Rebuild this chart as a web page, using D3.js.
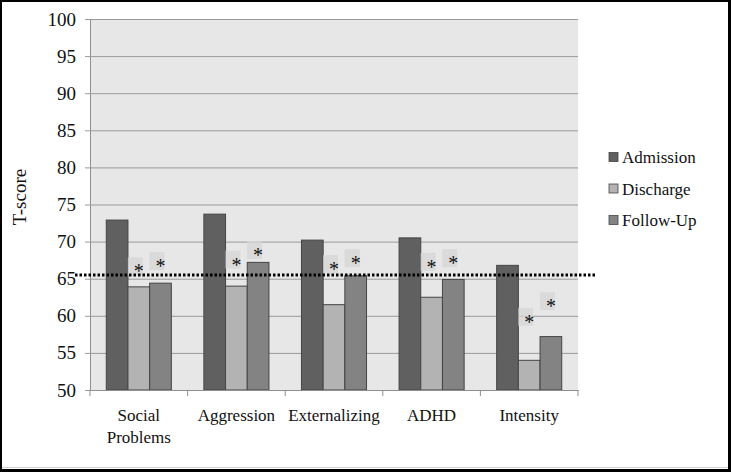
<!DOCTYPE html>
<html>
<head>
<meta charset="utf-8">
<script src="https://cdn.jsdelivr.net/npm/d3@7"></script>
<style>
  body{margin:0;background:#fff}
  svg{display:block}
</style>
</head>
<body>
<svg></svg>
<script>
// data
let categories=[["Social","Problems"],["Aggression"],["Externalizing"],["ADHD"],["Intensity"]]
let series=["Admission","Discharge","Follow-Up"]
let admission=[72.9,73.7,70.2,70.5,66.8]
let discharge=[63.9,64.0,61.5,62.5,54.0]
let followUp=[64.4,67.2,65.4,64.9,57.2]
// asterisk heights (T-score) over discharge / follow-up bars
let starDischarge=[66.4,67.3,66.7,67.0,59.6]
let starFollowUp=[67.1,68.6,67.5,67.5,61.7]
let yTicks=[50,55,60,65,70,75,80,85,90,95,100]
let cutoff=65.5

let width=731
let height=472
let plotLeft=90, plotRight=578, plotTop=19, plotBottom=390
let serif='"Liberation Serif", "Times New Roman", serif'

let colors={"Admission":"#606060","Discharge":"#b3b3b3","Follow-Up":"#838383"}
let values=[admission,discharge,followUp]

let svg=d3.select('svg').attr('width',width).attr('height',height)

// frame
svg.append('rect').attr('width',width).attr('height',height).attr('fill','#000')
svg.append('rect').attr('x',2).attr('y',2).attr('width',726).attr('height',467).attr('fill','#fff')
svg.append('line').attr('x1',2).attr('x2',728).attr('y1',467.5).attr('y2',467.5).attr('stroke','#cfcfcf')

let labels=categories.map(c=>c.join(' '))
let xScale=d3.scaleBand().domain(labels).range([plotLeft,plotRight]).padding(0)
let subScale=d3.scaleBand().domain(series).range([0,xScale.bandwidth()]).paddingInner(0).paddingOuter(0.75)
let yScale=d3.scaleLinear().domain([50,100]).range([plotBottom,plotTop])

// plot background
svg.append('rect').attr('x',plotLeft).attr('y',plotTop).attr('width',plotRight-plotLeft).attr('height',plotBottom-plotTop).attr('fill','#e7e7e7')

// gridlines + y axis
let yAxis=d3.axisLeft(yScale).tickValues(yTicks).tickSize(-(plotRight-plotLeft)).tickSizeOuter(0).tickPadding(10)
let gy=svg.append('g').attr('transform','translate('+plotLeft+',0)').call(yAxis)
gy.attr('font-family',serif).attr('font-size',19)
gy.select('.domain').attr('stroke','#8f8f8f')
gy.selectAll('.tick line').attr('stroke','#9a9a9a').attr('x1',-5)
gy.selectAll('.tick text').style('font-family',serif).style('font-size','19px').attr('fill','#111').attr('x',-14)

// bars
let rows=[]
labels.forEach((c,i)=>{
    series.forEach((s,j)=>{
        rows.push({cat:c,series:s,value:values[j][i]})
    })
})
svg.selectAll('rect.bar')
    .data(rows)
    .enter()
    .append('rect')
    .attr('class','bar')
    .attr('x',d=>xScale(d.cat)+subScale(d.series))
    .attr('width',subScale.bandwidth())
    .attr('y',d=>yScale(d.value))
    .attr('height',d=>plotBottom-yScale(d.value))
    .attr('fill',d=>colors[d.series])
    .attr('stroke','#454545')
    .attr('stroke-width',1)

// x axis
let xAxis=d3.axisBottom(xScale).tickSize(0).tickSizeOuter(0)
let gx=svg.append('g').attr('transform','translate(0,'+plotBottom+')').call(xAxis)
gx.select('.domain').attr('stroke','#8f8f8f')
gx.selectAll('.tick text').remove()
let boundaries=d3.range(labels.length+1).map(i=>plotLeft+i*xScale.step())
gx.selectAll('line.sep').data(boundaries).enter().append('line')
    .attr('x1',d=>d).attr('x2',d=>d).attr('y1',0).attr('y2',6).attr('stroke','#8f8f8f')
svg.selectAll('text.cat')
    .data(categories)
    .enter()
    .append('text')
    .attr('class','cat')
    .attr('text-anchor','middle')
    .style('font-family',serif)
    .style('font-size','17px')
    .attr('fill','#111')
    .attr('x',(d,i)=>xScale(labels[i])+xScale.bandwidth()/2)
    .attr('y',421)
    .each(function(d){
        let cx=d3.select(this).attr('x')
        d3.select(this).selectAll('tspan').data(d).enter().append('tspan')
            .attr('x',cx)
            .attr('dy',(t,k)=>k==0?0:22)
            .text(t=>t)
    })

// asterisks with light boxes
let stars=[]
labels.forEach((c,i)=>{
    stars.push({cat:c,series:"Discharge",value:starDischarge[i]})
    stars.push({cat:c,series:"Follow-Up",value:starFollowUp[i]})
})
let sg=svg.selectAll('g.star').data(stars).enter().append('g').attr('class','star')
    .attr('transform',d=>'translate('+(xScale(d.cat)+subScale(d.series)+subScale.bandwidth()/2)+','+yScale(d.value)+')')
sg.append('rect').attr('x',-11).attr('y',-11).attr('width',15).attr('height',18).attr('fill','#d6d6d6').attr('opacity',0.75)
sg.append('text').attr('text-anchor','middle').attr('y',10).style('font-family',serif).style('font-size','20px').attr('fill','#111').text('*')

// cutoff dotted line
svg.append('line')
    .attr('x1',75).attr('x2',597)
    .attr('y1',yScale(cutoff)).attr('y2',yScale(cutoff))
    .attr('stroke','#000').attr('stroke-width',3).attr('stroke-dasharray','2.5,2')

// y label
svg.append('text')
    .attr('transform','translate(26,197) rotate(-90)')
    .attr('text-anchor','middle')
    .style('font-family',serif)
    .style('font-size','19px')
    .attr('fill','#111')
    .text('T-score')

// legend
let lg=svg.selectAll('g.legend').data(series).enter().append('g').attr('class','legend')
    .attr('transform',(d,i)=>'translate(609,'+(157+i*31.5)+')')
lg.append('rect').attr('x',0).attr('y',-4.5).attr('width',9).attr('height',9)
    .attr('fill',d=>colors[d]).attr('stroke','#454545').attr('stroke-width',0.8)
lg.append('text').attr('x',13).attr('y',6).style('font-family',serif).style('font-size','17px').attr('fill','#111').text(d=>d)
</script>
</body>
</html>
